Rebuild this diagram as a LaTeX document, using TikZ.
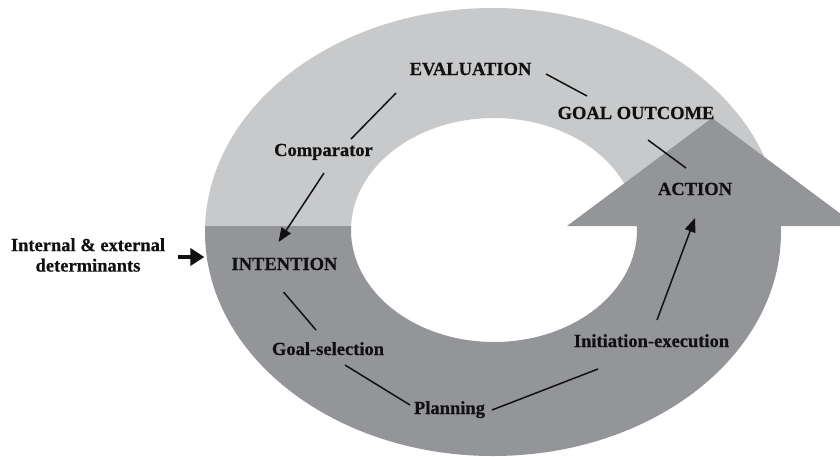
\documentclass[tikz,border=0pt]{standalone}
\usepackage{fontspec}
\setmainfont{Liberation Serif}[BoldFeatures={FakeBold=0.6}]
\usetikzlibrary{arrows.meta,calc}
\definecolor{lightring}{HTML}{C8C9CB}
\definecolor{darkring}{HTML}{939598}
\definecolor{ink}{HTML}{111111}
\begin{document}
\begin{tikzpicture}[x=1pt,y=-1pt,
  lbl/.style={font=\bfseries\fontsize{18.5}{20.5}\selectfont, text=ink, inner sep=0pt, anchor=base},
  conn/.style={draw=ink, line width=1.5pt},
  arr/.style={conn, -{Triangle[length=14pt,width=11pt]}},
  bigarr/.style={draw=ink, line width=3.5pt, -{Triangle[length=14pt,width=17pt]}}]
\clip (0,0) rectangle (840,456);
% upper light half of the ring
\begin{scope}
  \clip (0,0) rectangle (840,226);
  \fill[lightring, even odd rule] (493,232) ellipse [x radius=288pt, y radius=224pt]
                                  (494,230) ellipse [x radius=143pt, y radius=112pt];
\end{scope}
% lower dark half of the ring
\begin{scope}
  \clip (0,226) rectangle (840,456);
  \fill[darkring, even odd rule] (493,232) ellipse [x radius=288pt, y radius=224pt]
                                 (494,230) ellipse [x radius=143pt, y radius=112pt];
\end{scope}
% arrow head
\fill[darkring] (567,226) -- (712,118) -- (857,226) -- cycle;

% labels
\node[lbl] (eval)   at (470.5,75)  {EVALUATION};
\node[lbl] (goal)   at (636,119)   {GOAL OUTCOME};
\node[lbl] (action) at (695,195)   {ACTION};
\node[lbl] (comp)   at (323.5,156) {Comparator};
\node[lbl] (intent) at (284.5,270) {INTENTION};
\node[lbl] (gsel)   at (328,355)   {Goal-selection};
\node[lbl] (plan)   at (449.5,414) {Planning};
\node[lbl] (init)   at (651.5,347) {Initiation-execution};
\node[lbl, anchor=center, align=center] (det) at (88,255) {Internal \& external\\determinants};

% connectors
\draw[conn] ($(eval.base)+(75.5,-1)$) -- ($(goal.base)+(-49,-23)$);
\draw[conn] ($(eval.base)+(-74.5,18)$) -- ($(comp.base)+(27.5,-17)$);
\draw[arr]  ($(comp.base)+(0.5,17)$) -- ($(intent.base)+(-6,-28)$);
\draw[conn] ($(goal.base)+(12,21)$) -- ($(action.base)+(-9,-27)$);
\draw[conn] ($(intent.base)+(-1,22)$) -- ($(gsel.base)+(-12,-25)$);
\draw[conn] ($(gsel.base)+(17,10)$) -- ($(plan.base)+(-39.5,-9)$);
\draw[conn] ($(plan.base)+(42.5,-4)$) -- ($(init.base)+(-53.5,22)$);
\draw[arr]  ($(init.base)+(5.5,-27)$) -- ($(action.base)+(0,23)$);
\draw[bigarr] ($(det.east)+(13,2)$) -- ($(det.east -| intent.west)+(-27,2)$);
\end{tikzpicture}
\end{document}
